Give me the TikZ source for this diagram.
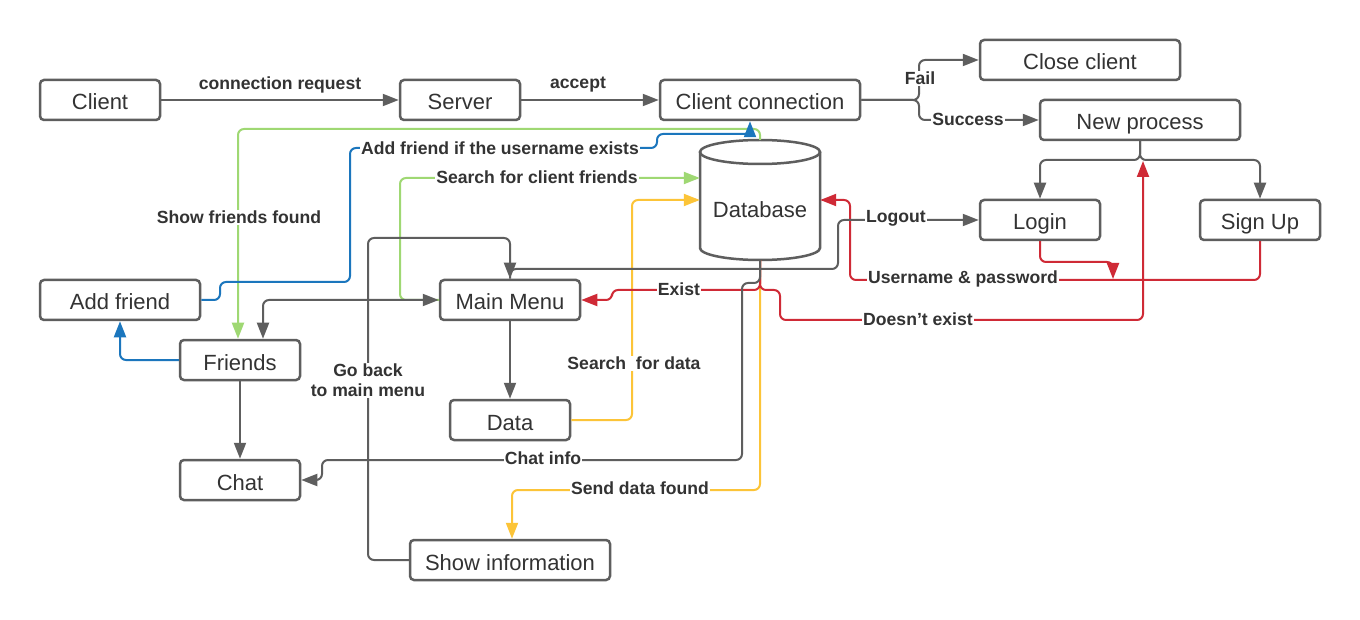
\documentclass[tikz,border=0pt]{standalone}
\usepackage{fontspec}
\setmainfont{Liberation Sans}
\usetikzlibrary{arrows.meta,calc}
\definecolor{boxc}{HTML}{5E5E5E}
\definecolor{txtc}{HTML}{333333}
\definecolor{gc}{HTML}{5E5E5E}
\definecolor{grn}{HTML}{9FD873}
\definecolor{blu}{HTML}{1B76BD}
\definecolor{yel}{HTML}{FCC438}
\definecolor{rd}{HTML}{CF2A36}
\tikzset{
  box/.style={draw=boxc, line width=2.5pt, rounded corners=4pt, fill=white,
    minimum height=40pt, inner sep=0pt, text height=20pt, text depth=0pt,
    text=txtc, font=\fontsize{22}{26}\selectfont},
  conn/.style={line width=2pt, rounded corners=6pt, -{Triangle[length=16pt,width=12pt]}},
  lbl/.style={fill=white, inner sep=1pt, text=txtc, yshift=-1.5pt, font=\bfseries\fontsize{17.6}{20}\selectfont},
}
\begin{document}
\begin{tikzpicture}[x=1pt,y=-1pt]
\useasboundingbox (0,0) rectangle (1360,620);
\fill[white] (0,0) rectangle (1360,620);

% nodes
\node[box, minimum width=120pt] (client) at (100,100) {Client};
\node[box, minimum width=120pt] (server) at (460,100) {Server};
\node[box, minimum width=200pt] (cc) at (760,100) {Client connection};
\node[box, minimum width=200pt] (close) at (1080,60) {Close client};
\node[box, minimum width=200pt] (np) at (1140,120) {New process};
\node[box, minimum width=120pt] (login) at (1040,220) {Login};
\node[box, minimum width=120pt] (signup) at (1260,220) {Sign Up};
\node[box, minimum width=160pt] (addf) at (120,300) {Add friend};
\node[box, minimum width=140pt] (mm) at (510,300) {Main Menu};
\node[box, minimum width=120pt] (friends) at (240,360) {Friends};
\node[box, minimum width=120pt] (data) at (510,420) {Data};
\node[box, minimum width=120pt] (chat) at (240,480) {Chat};
\node[box, minimum width=200pt] (show) at (510,560) {Show information};

% database cylinder
\node[minimum width=120pt, minimum height=120pt, inner sep=0pt] (db) at (760,200) {};
\draw[boxc, line width=2.5pt, fill=white] (700,152) -- (700,248) arc[start angle=180, end angle=0, x radius=60, y radius=12] -- (820,152);
\draw[boxc, line width=2.5pt, fill=white] (760,152) ellipse [x radius=60, y radius=12];
\node[text=txtc, font=\fontsize{22}{26}\selectfont, text height=20pt, text depth=0pt, inner sep=0pt] (dbt) at (760,208) {Database};

\coordinate (npj) at (1143,161);
\coordinate (upj) at (1113,279);

% top row
\draw[conn, gc] (client.east) -- (server.west);
\draw[conn, gc] (server.east) -- (cc.west);
\draw[conn, gc] (cc.east) -- (919,100) -- (919,60) -- (close.west);
\draw[conn, gc] (cc.east) -- (919,100) -- (919,120) -- (np.west);
\draw[conn, gc] (np.south) -- (1140,160) -| (login.north);
\draw[conn, gc] (np.south) -- (1140,160) -| (signup.north);

% red
\draw[conn, rd] (login.south) -- (1040,262) -- (1113,262) -- (upj);
\draw[conn, rd] (signup.south) -- (1260,280) -- (850,280) -- (850,200) -- (db.east);

% green
\draw[conn, grn] (db.north) -- (760,129) -- (238,129) -- ([xshift=-2pt]friends.north);
\draw[conn, grn] (mm.west) -- (400,300) -- (400,178) -- (db.west |- 0,178);

% blue
\draw[conn, blu] (addf.east) -- (220,300) -- (220,282) -- (350,282) -- (350,148) -- (657,148) -- (657,134) -- (750,134) -- ([xshift=-10pt]cc.south);
\draw[conn, blu] (friends.west) -| (addf.south);

% yellow
\draw[conn, yel] (data.east) -- (632,420) -- (632,200) -- (db.west);
\draw[conn, yel] (db.south) -- (760,490) -- (512,490) -- ([xshift=2pt]show.north);

% red from database
\draw[conn, rd] (db.south) -- (760,290) -- (612,290) -- (612,300) -- (mm.east);
\draw[conn, rd] (db.south) -- (760,290) -- (780,290) -- (780,320) -- (1143,320) -- (npj);

% gray
\draw[conn, gc] (db.south) -- (760,283) -- (742,283) -- (742,460) -- (322,460) -- (322,480) -- (chat.east);
\draw[conn, gc] (show.west) -- (368,560) -- (368,238) -- (510,238) -- (mm.north);
\draw[conn, gc] (mm.north) -- (510,269) -- (838,269) -- (838,220) -- (login.west);
\draw[conn, gc, {Triangle[length=16pt,width=12pt]}-{Triangle[length=16pt,width=12pt]}] (mm.west) -- (263,300) -- ([xshift=23pt]friends.north);
\draw[conn, gc] (mm.south) -- (data.north);
\draw[conn, gc] (friends.south) -- (chat.north);

% labels
\node[lbl, fill=none] (l1) at (280,83) {connection request};
\node[lbl, fill=none] (l2) at (578,83) {accept};
\node[lbl] (l3) at (920,77) {Fail};
\node[lbl] (l4) at (968,118) {Success};
\node[lbl] (l5) at (500,147) {Add friend if the username exists};
\node[lbl] (l6) at (537,176) {Search for client friends};
\node[lbl] (l7) at (239,216) {Show friends found};
\node[lbl] (l8) at (896,217) {Logout};
\node[lbl] (l9) at (963,277) {Username \& password};
\node[lbl] (l10) at (679,288) {Exist};
\node[lbl] (l11) at (918,318) {Doesn't exist};
\node[lbl, align=center, font=\bfseries\fontsize{17.6}{20}\selectfont] (l12) at (368,379) {Go back\\to main menu};
\node[lbl] (l13) at (634,362) {Search\ \ for data};
\node[lbl] (l14) at (543,457) {Chat info};
\node[lbl] (l15) at (640,487) {Send data found};
\end{tikzpicture}
\end{document}
